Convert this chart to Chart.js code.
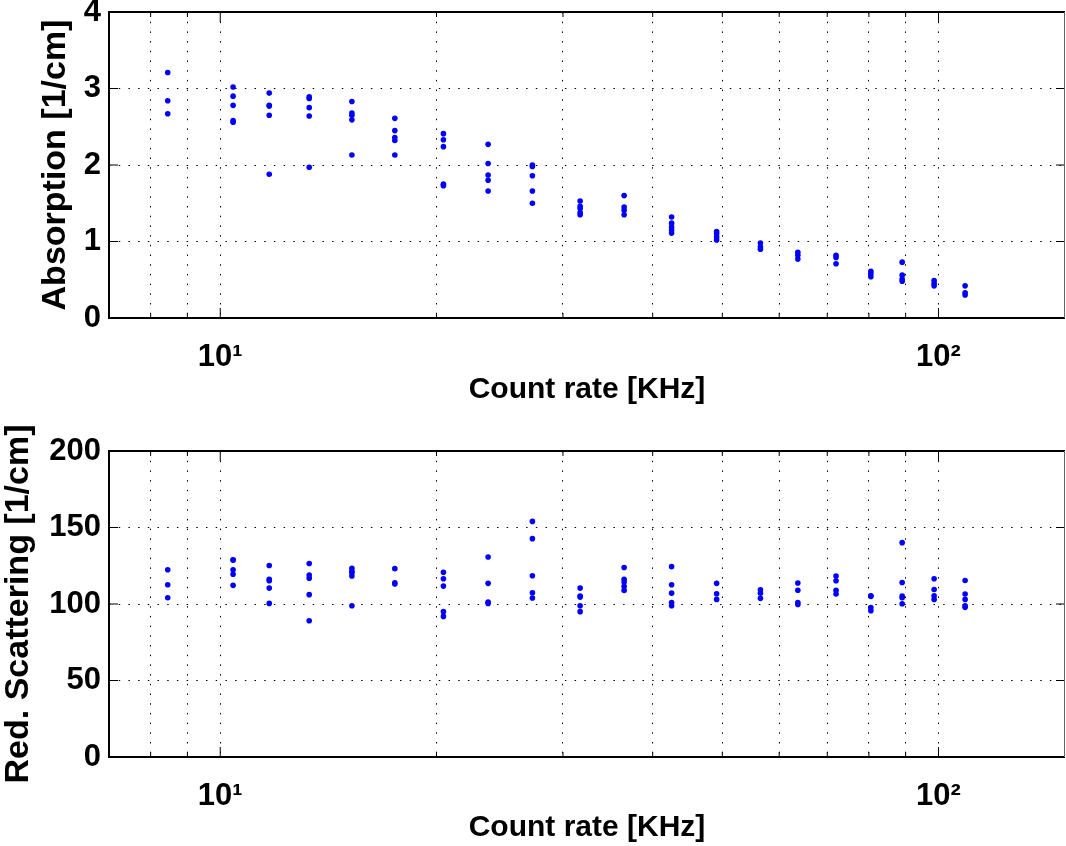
<!DOCTYPE html>
<html>
<head>
<meta charset="utf-8">
<script src="https://cdn.jsdelivr.net/npm/chart.js@4.4.1/dist/chart.umd.min.js"></script>
<style>
  body { margin: 0; background: #fff; }
  canvas { position: absolute; left: 0; }
  #chartAbs { top: 0; }
  #chartScat { top: 420px; }
</style>
</head>
<body>
<canvas id="chartAbs" width="1066" height="420"></canvas>
<canvas id="chartScat" width="1066" height="426"></canvas>
<script>
// count rate of each measurement group [KHz]
const countRate = [8.45, 10.42, 11.7, 13.3, 15.25, 17.5, 20.45, 23.6, 27.2, 31.7,
                   36.5, 42.5, 49.1, 56.5, 63.7, 72.0, 80.5, 89.0, 98.6, 108.9];

// absorption values per group [1/cm]
const absorption = [
  [3.21, 2.84, 2.67],
  [3.02, 2.90, 2.78, 2.58, 2.56],
  [2.94, 2.78, 2.77, 2.65, 1.88],
  [2.89, 2.87, 2.75, 2.64, 1.97],
  [2.83, 2.68, 2.65, 2.59, 2.13],
  [2.61, 2.45, 2.36, 2.32, 2.13],
  [2.41, 2.33, 2.24, 1.75, 1.73],
  [2.27, 2.02, 1.87, 1.80, 1.66],
  [2.00, 1.98, 1.86, 1.66, 1.50],
  [1.53, 1.46, 1.43, 1.38, 1.35],
  [1.60, 1.45, 1.41, 1.35],
  [1.32, 1.24, 1.19, 1.15, 1.11],
  [1.13, 1.10, 1.06, 1.02],
  [0.98, 0.93, 0.90],
  [0.86, 0.82, 0.77],
  [0.82, 0.79, 0.71],
  [0.61, 0.58, 0.54],
  [0.73, 0.56, 0.51, 0.48],
  [0.49, 0.45, 0.42],
  [0.42, 0.33, 0.30]
];

// reduced scattering values per group [1/cm]
const scattering = [
  [122.4, 112.6, 104.1],
  [128.7, 128.9, 122.4, 119.4, 112.2],
  [125.2, 115.2, 116.1, 110.4, 100.4],
  [126.5, 118.9, 116.9, 106.1, 89.1],
  [123.3, 121.3, 120.5, 118.3, 98.9],
  [123.1, 113.9, 113.0],
  [120.7, 116.5, 111.7, 95.0, 91.9],
  [130.7, 113.5, 101.2, 100.4],
  [154.0, 142.7, 118.5, 107.4, 103.9],
  [110.4, 105.2, 104.5, 98.9, 95.0],
  [123.9, 116.1, 114.3, 111.5, 108.9],
  [124.4, 112.6, 107.1, 101.0, 98.9],
  [113.5, 106.7, 103.0],
  [109.3, 107.1, 103.7],
  [113.7, 109.0, 101.0, 99.7],
  [118.3, 115.2, 108.9, 106.5],
  [105.4, 105.0, 97.6, 95.6],
  [140.1, 114.1, 105.2, 104.1, 100.2],
  [116.5, 109.5, 105.4, 103.0],
  [115.4, 106.5, 103.0, 98.9, 97.8]
];

const xTicks = [8, 9, 10, 20, 30, 40, 50, 60, 70, 80, 90, 100];
const absTicks = [0, 1, 2, 3, 4];
const scatTicks = [0, 50, 100, 150, 200];

const FONT = "'Liberation Sans', Arial, Helvetica, sans-serif";

function points(ys) {
  const pts = [];
  countRate.forEach((x, i) => ys[i].forEach(y => pts.push({ x: x, y: y })));
  return pts;
}

// box around the plot with matlab style inward ticks
const boxTicks = {
  id: 'boxTicks',
  afterDraw(chart) {
    const { ctx, chartArea: a, scales: { x, y } } = chart;
    ctx.save();
    ctx.strokeStyle = '#000';
    ctx.lineWidth = 1;
    ctx.beginPath();
    y.ticks.forEach(t => {
      const py = y.getPixelForValue(t.value);
      ctx.moveTo(a.left, py); ctx.lineTo(a.left + 9, py);
      ctx.moveTo(a.right, py); ctx.lineTo(a.right - 9, py);
    });
    x.ticks.forEach(t => {
      const len = (t.value === 10 || t.value === 100) ? 10 : 5;
      const px = x.getPixelForValue(t.value);
      ctx.moveTo(px, a.bottom); ctx.lineTo(px, a.bottom - len);
      ctx.moveTo(px, a.top); ctx.lineTo(px, a.top + len);
    });
    ctx.stroke();

    ctx.lineWidth = 2;
    ctx.beginPath();
    ctx.moveTo(a.right, a.top);
    ctx.lineTo(a.left, a.top);
    ctx.lineTo(a.left, a.bottom);
    ctx.lineTo(a.right, a.bottom);
    ctx.stroke();
    ctx.lineWidth = 1;
    ctx.strokeStyle = '#666';
    ctx.beginPath();
    ctx.moveTo(a.right - 0.5, a.top);
    ctx.lineTo(a.right - 0.5, a.bottom);
    ctx.stroke();
    ctx.restore();
  }
};

function makeChart(id, ys, yMax, yTicks, yTitle, yTitlePad, padTop, xHeight, xTitlePad) {
  new Chart(document.getElementById(id), {
    type: 'scatter',
    data: {
      datasets: [{
        data: points(ys),
        pointRadius: 2.8,
        pointBorderWidth: 0,
        backgroundColor: '#0000ff',
        borderColor: '#0000ff'
      }]
    },
    options: {
      responsive: false,
      animation: false,
      layout: { autoPadding: false, padding: { top: padTop, right: 1, left: 0, bottom: 0 } },
      plugins: {
        legend: { display: false },
        tooltip: { enabled: false }
      },
      scales: {
        x: {
          type: 'logarithmic',
          min: 7,
          max: 150,
          afterBuildTicks: s => { s.ticks = xTicks.map(v => ({ value: v })); },
          afterFit: s => { s.height = xHeight; s.paddingLeft = 0; s.paddingRight = 0; },
          grid: { color: '#000', lineWidth: 1, drawTicks: false },
          border: { display: false, dash: [1.5, 8.2] },
          ticks: {
            autoSkip: false,
            maxRotation: 0,
            padding: 24,
            color: '#000',
            font: { family: FONT, size: 31, weight: 'bold', lineHeight: 1 },
            callback: v => v === 10 ? '10\u00b9' : (v === 100 ? '10\u00b2' : '')
          },
          title: {
            display: true,
            text: 'Count rate [KHz]',
            color: '#000',
            font: { family: FONT, size: 30, weight: 'bold', lineHeight: 1 },
            padding: { top: 0, bottom: xTitlePad }
          }
        },
        y: {
          min: 0,
          max: yMax,
          afterBuildTicks: s => { s.ticks = yTicks.map(v => ({ value: v })); },
          afterFit: s => { s.width = 109; s.paddingTop = 0; s.paddingBottom = 0; },
          grid: { color: '#000', lineWidth: 1, drawTicks: false },
          border: { display: false, dash: [1.5, 8.2] },
          ticks: {
            padding: 8,
            color: '#000',
            font: { family: FONT, size: 31, weight: 'bold', lineHeight: 1 }
          },
          title: {
            display: true,
            text: yTitle,
            color: '#000',
            font: { family: FONT, size: 34, weight: 'bold', lineHeight: 1 },
            padding: { top: yTitlePad, bottom: 0 }
          }
        }
      }
    },
    plugins: [boxTicks]
  });
}

makeChart('chartAbs', absorption, 4, absTicks, 'Absorption [1/cm]', 39, 12, 102, 15);
makeChart('chartScat', scattering, 200, scatTicks, 'Red. Scattering [1/cm]', 2, 31, 89, 3);
</script>
</body>
</html>
